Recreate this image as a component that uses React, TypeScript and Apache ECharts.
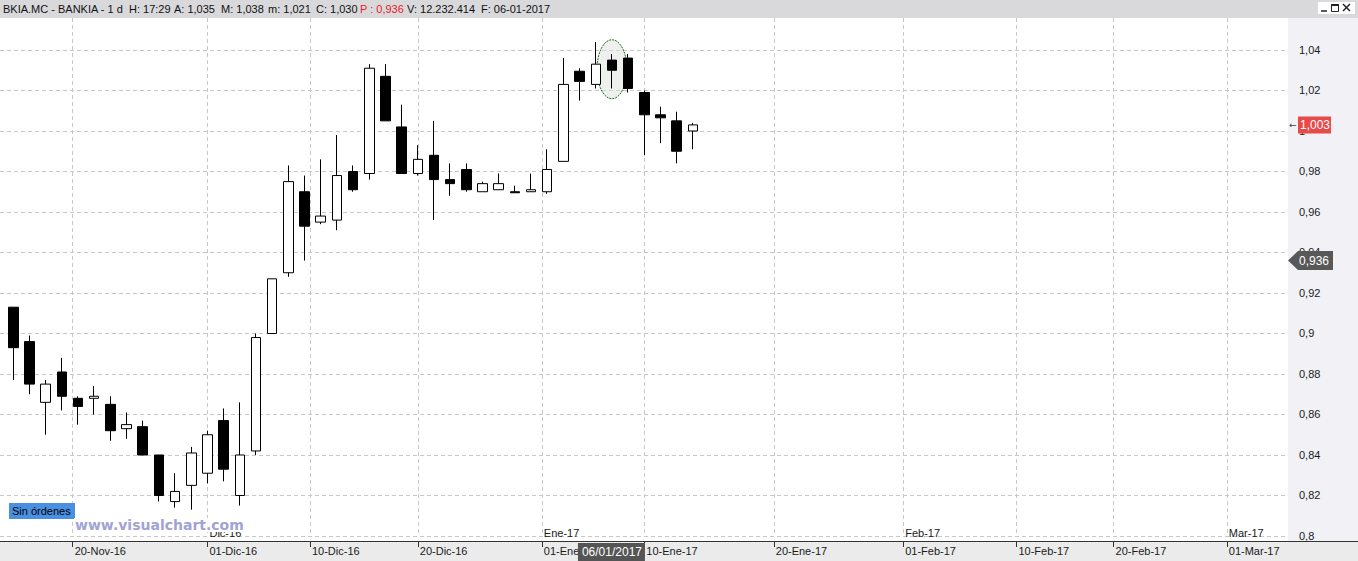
import React, { useEffect, useRef } from 'react';
import * as echarts from 'echarts';

// Trading sessions shown on the time axis (past sessions + future empty space)
const tradingDays: string[] = [
  '2016-11-15', '2016-11-16', '2016-11-17', '2016-11-18', '2016-11-21', '2016-11-22', '2016-11-23', '2016-11-24', '2016-11-25',
  '2016-11-28', '2016-11-29', '2016-11-30', '2016-12-01', '2016-12-02', '2016-12-05', '2016-12-06', '2016-12-07', '2016-12-08',
  '2016-12-09', '2016-12-12', '2016-12-13', '2016-12-14', '2016-12-15', '2016-12-16', '2016-12-19', '2016-12-20', '2016-12-21',
  '2016-12-22', '2016-12-23', '2016-12-27', '2016-12-28', '2016-12-29', '2016-12-30', '2017-01-02', '2017-01-03', '2017-01-04',
  '2017-01-05', '2017-01-06', '2017-01-09', '2017-01-10', '2017-01-11', '2017-01-12', '2017-01-13', '2017-01-16', '2017-01-17',
  '2017-01-18', '2017-01-19', '2017-01-20', '2017-01-23', '2017-01-24', '2017-01-25', '2017-01-26', '2017-01-27', '2017-01-30',
  '2017-01-31', '2017-02-01', '2017-02-02', '2017-02-03', '2017-02-06', '2017-02-07', '2017-02-08', '2017-02-09', '2017-02-10',
  '2017-02-13', '2017-02-14', '2017-02-15', '2017-02-16', '2017-02-17', '2017-02-20', '2017-02-21', '2017-02-22', '2017-02-23',
  '2017-02-24', '2017-02-27', '2017-02-28', '2017-03-01', '2017-03-02', '2017-03-03', '2017-03-06',
];

// [open, close, low, high] for each session from 15-Nov-16
const candles: number[][] = [
  [0.913, 0.893, 0.877, 0.913],
  [0.896, 0.875, 0.870, 0.899],
  [0.866, 0.875, 0.850, 0.877],
  [0.881, 0.869, 0.862, 0.888],
  [0.868, 0.864, 0.855, 0.869],
  [0.868, 0.869, 0.860, 0.874],
  [0.865, 0.852, 0.847, 0.869],
  [0.853, 0.855, 0.848, 0.861],
  [0.854, 0.840, 0.840, 0.857],
  [0.840, 0.820, 0.817, 0.840],
  [0.817, 0.822, 0.814, 0.831],
  [0.825, 0.841, 0.813, 0.844],
  [0.831, 0.850, 0.826, 0.852],
  [0.857, 0.833, 0.827, 0.863],
  [0.820, 0.840, 0.815, 0.866],
  [0.842, 0.898, 0.840, 0.900],
  [0.900, 0.927, 0.900, 0.927],
  [0.930, 0.975, 0.928, 0.983],
  [0.970, 0.953, 0.936, 0.978],
  [0.955, 0.958, 0.954, 0.986],
  [0.956, 0.978, 0.951, 0.998],
  [0.980, 0.971, 0.970, 0.983],
  [0.979, 1.031, 0.976, 1.033],
  [1.027, 1.005, 1.005, 1.033],
  [1.002, 0.979, 0.979, 1.013],
  [0.979, 0.986, 0.978, 0.993],
  [0.988, 0.976, 0.956, 1.005],
  [0.976, 0.974, 0.968, 0.984],
  [0.981, 0.971, 0.970, 0.984],
  [0.970, 0.974, 0.970, 0.975],
  [0.971, 0.974, 0.971, 0.979],
  [0.970, 0.9695, 0.9695, 0.973],
  [0.970, 0.971, 0.970, 0.979],
  [0.970, 0.981, 0.969, 0.991],
  [0.985, 1.023, 0.985, 1.036],
  [1.0295, 1.0245, 1.015, 1.031],
  [1.023, 1.033, 1.021, 1.044],
  [1.035, 1.030, 1.021, 1.038],
  [1.036, 1.021, 1.019, 1.038],
  [1.019, 1.008, 0.988, 1.020],
  [1.008, 1.0065, 0.994, 1.012],
  [1.005, 0.990, 0.984, 1.0095],
  [1.000, 1.003, 0.991, 1.004],
];

const tickDates = ['2016-11-20', '2016-12-01', '2016-12-10', '2016-12-20', '2017-01-01', '2017-01-10', '2017-01-20', '2017-02-01', '2017-02-10', '2017-02-20', '2017-03-01'];
const tickLabels = ['20-Nov-16', '01-Dic-16', '10-Dic-16', '20-Dic-16', '01-Ene-17', '10-Ene-17', '20-Ene-17', '01-Feb-17', '10-Feb-17', '20-Feb-17', '01-Mar-17'];
const monthDates = ['2016-12-01', '2017-01-01', '2017-02-01', '2017-03-01'];
const monthLabels = ['Dic-16', 'Ene-17', 'Feb-17', 'Mar-17'];

const selectedIndex = 37; // 06-01-2017
const selectedLabel = '06/01/2017';
const headerTitle = 'BKIA.MC - BANKIA - 1 d';
const headerTime = '17:29';
const headerVolume = '12.232.414';
const headerDate = '06-01-2017';
const refPrice = 0.936;
const lastPrice = candles[candles.length - 1][1];

const FONT = 'Liberation Sans';

function posOf(d: string): number {
  const t = Date.parse(d);
  for (let i = 0; i < tradingDays.length - 1; i++) {
    const t0 = Date.parse(tradingDays[i]);
    const t1 = Date.parse(tradingDays[i + 1]);
    if (t >= t0 && t < t1) return i + (t - t0) / (t1 - t0);
  }
  return tradingDays.length - 1;
}

const fmt3 = (v: number) => v.toFixed(3).replace('.', ',');
const fmtY = (v: number) => String(Number(v.toFixed(2))).replace('.', ',');

export default function App() {
  const ref = useRef<HTMLDivElement>(null);
  useEffect(() => {
    if (!ref.current) return;
    const chart = echarts.init(ref.current, undefined, { renderer: 'svg' });
    const tickPos = tickDates.map(posOf);
    const monthPos = monthDates.map(posOf);
    const xMin = -0.822;
    const xMax = xMin + 1286 / 16.18;
    const findLabel = (arr: number[], labels: string[]) => (v: number) => {
      const i = arr.findIndex((p) => Math.abs(p - v) < 1e-6);
      return i >= 0 ? labels[i] : '';
    };
    const option: any = {
      animation: false,
      textStyle: { fontFamily: FONT },
      grid: { left: 0, right: 72, top: 18, bottom: 25 },
      xAxis: [
        {
          type: 'value', min: xMin, max: xMax, position: 'bottom', offset: 5,
          axisLine: { show: false },
          axisTick: { show: true, customValues: tickPos, length: 6, lineStyle: { color: '#333' } },
          axisLabel: {
            customValues: tickPos, formatter: findLabel(tickPos, tickLabels), align: 'left', margin: 4,
            padding: [0, 0, 0, 2], fontSize: 11, color: '#1a1a1a', fontFamily: FONT, hideOverlap: false,
          },
          splitLine: { show: true, lineStyle: { color: '#c8c8c8', type: [4, 3], width: 1 } },
        },
        {
          type: 'value', min: xMin, max: xMax, position: 'bottom', offset: 5,
          axisLine: { show: false }, axisTick: { show: false }, splitLine: { show: false },
          axisLabel: {
            customValues: monthPos, formatter: findLabel(monthPos, monthLabels), inside: true, align: 'left', margin: 3,
            padding: [0, 0, 0, 2], fontSize: 11, color: '#1a1a1a', fontFamily: FONT,
          },
        },
      ],
      yAxis: {
        type: 'value', position: 'right', min: 0.8, max: 1.0558, interval: 0.02,
        axisLine: { show: false }, axisTick: { show: false },
        axisLabel: { margin: 13, fontSize: 11, color: '#1a1a1a', fontFamily: FONT, showMaxLabel: false, formatter: fmtY },
        splitLine: { show: true, showMaxLine: false, lineStyle: { color: '#c8c8c8', type: [4, 3], width: 1 } },
      },
      series: [
        {
          type: 'candlestick', xAxisIndex: 0, yAxisIndex: 0,
          dimensions: ['idx', 'open', 'close', 'lowest', 'highest'],
          encode: { x: 0, y: [1, 2, 3, 4] },
          data: candles.map((c, i) => [i, c[0], c[1], c[2], c[3]]),
          barWidth: 10,
          itemStyle: { color: '#ffffff', color0: '#000000', borderColor: '#000000', borderColor0: '#000000', borderWidth: 1 },
          z: 5,
        },
      ],
    };
    chart.setOption(option);

    const sel = candles[selectedIndex];
    const selPx = chart.convertToPixel({ gridIndex: 0 }, [selectedIndex, (sel[2] + sel[3]) / 2 + 0.001]) as number[];
    const lastY = (chart.convertToPixel({ gridIndex: 0 }, [0, lastPrice]) as number[])[1];
    const refY = (chart.convertToPixel({ gridIndex: 0 }, [0, refPrice]) as number[])[1];

    const headerParts: { x: number; text: string; color?: string }[] = [
      { x: 3, text: headerTitle },
      { x: 129, text: 'H: ' + headerTime },
      { x: 174, text: 'A: ' + fmt3(sel[0]) },
      { x: 221, text: 'M: ' + fmt3(sel[3]) },
      { x: 268, text: 'm: ' + fmt3(sel[2]) },
      { x: 316, text: 'C: ' + fmt3(sel[1]) },
      { x: 360, text: 'P : ' + fmt3(refPrice), color: '#e8202a' },
      { x: 407, text: 'V: ' + headerVolume },
      { x: 481, text: 'F: ' + headerDate },
    ];

    const graphic: any[] = [
      ...headerParts.map((p) => ({
        type: 'text', x: p.x, y: 9, z: 100,
        style: { text: p.text, fill: p.color || '#111', font: `11px "${FONT}"`, verticalAlign: 'middle' },
      })),
      { type: 'rect', z: 100, shape: { x: 1318, y: 2, width: 37, height: 12 }, style: { fill: '#ffffff' } },
      { type: 'line', z: 101, shape: { x1: 1321, y1: 11, x2: 1327, y2: 11 }, style: { stroke: '#222', lineWidth: 1.5 } },
      { type: 'rect', z: 101, shape: { x: 1331.5, y: 4.5, width: 7, height: 7 }, style: { fill: 'none', stroke: '#222', lineWidth: 1 } },
      { type: 'line', z: 101, shape: { x1: 1331.5, y1: 5, x2: 1338.5, y2: 5 }, style: { stroke: '#222', lineWidth: 2 } },
      { type: 'line', z: 101, shape: { x1: 1343, y1: 4, x2: 1350, y2: 11 }, style: { stroke: '#222', lineWidth: 1.5 } },
      { type: 'line', z: 101, shape: { x1: 1350, y1: 4, x2: 1343, y2: 11 }, style: { stroke: '#222', lineWidth: 1.5 } },
      // bottom axis line
      { type: 'line', z: 100, shape: { x1: 0, y1: 541.5, x2: 1358, y2: 541.5 }, style: { stroke: '#333', lineWidth: 1 } },
      // selection ellipse (under the candles)
      {
        type: 'ellipse', z: 1, shape: { cx: selPx[0], cy: selPx[1], rx: 15, ry: 29.5 },
        style: { fill: 'rgba(215,222,215,0.45)', stroke: '#1d6b1d', lineWidth: 1, lineDash: [2, 1] },
      },
      // last price tag
      { type: 'text', z: 100, x: 1289, y: lastY, style: { text: '←', fill: '#444', font: `9px "DejaVu Sans"`, verticalAlign: 'middle' } },
      { type: 'rect', z: 100, shape: { x: 1298, y: lastY - 8.5, width: 33, height: 17 }, style: { fill: '#e84a4a' } },
      { type: 'text', z: 101, x: 1300, y: lastY, style: { text: fmt3(lastPrice), fill: '#ffffff', font: `12px "${FONT}"`, verticalAlign: 'middle' } },
      // reference price tag
      {
        type: 'polygon', z: 100,
        shape: { points: [[1288, refY], [1298, refY - 9.5], [1333, refY - 9.5], [1333, refY + 9.5], [1298, refY + 9.5]] },
        style: { fill: '#585858' },
      },
      { type: 'text', z: 101, x: 1299, y: refY, style: { text: fmt3(refPrice), fill: '#ffffff', font: `12px "${FONT}"`, verticalAlign: 'middle' } },
      // crosshair date label
      { type: 'rect', z: 100, shape: { x: selPx[0] - 34, y: 543, width: 67, height: 18 }, style: { fill: '#555555' } },
      {
        type: 'text', z: 101, x: selPx[0], y: 552,
        style: { text: selectedLabel, fill: '#ffffff', font: `12px "${FONT}"`, align: 'center', verticalAlign: 'middle' },
      },
      // orders box
      { type: 'rect', z: 100, shape: { x: 9, y: 503, width: 66, height: 16 }, style: { fill: '#4a90e2' } },
      { type: 'text', z: 101, x: 12, y: 511, style: { text: 'Sin órdenes', fill: '#000', font: `11px "${FONT}"`, verticalAlign: 'middle' } },
      // watermark
      {
        type: 'text', z: 100, x: 74, y: 525,
        style: {
          text: 'www.visualchart.com', fill: '#a0a3d4', font: `bold 14px "DejaVu Sans"`, verticalAlign: 'middle',
          backgroundColor: '#ffffff', padding: [0, 1, 0, 1],
        },
      },
    ];
    chart.setOption({ graphic });

    return () => chart.dispose();
  }, []);

  return (
    <div style={{ position: 'absolute', left: 0, top: 0, width: 1358, height: 561, overflow: 'hidden', background: '#ffffff' }}>
      <div style={{ position: 'absolute', left: 0, top: 0, width: 1358, height: 18, background: '#d9d9dc' }} />
      <div style={{ position: 'absolute', left: 1288, top: 18, width: 70, height: 523, background: '#f1f1f6' }} />
      <div style={{ position: 'absolute', left: 0, top: 541, width: 1358, height: 20, background: '#ebebeb' }} />
      <div ref={ref} style={{ position: 'absolute', left: 0, top: 0, width: 1358, height: 561 }} />
    </div>
  );
}
